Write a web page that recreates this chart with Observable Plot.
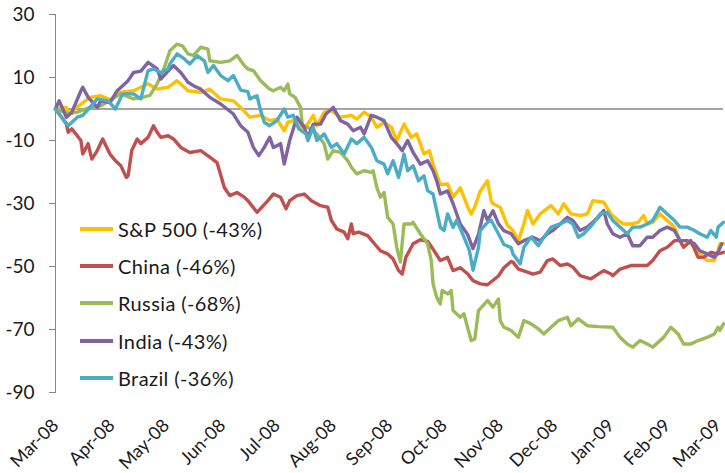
<!DOCTYPE html>
<html>
<head>
<meta charset="utf-8">
<script src="https://cdn.jsdelivr.net/npm/d3@7"></script>
<script src="https://cdn.jsdelivr.net/npm/@observablehq/plot@0.6"></script>
<style>
  body { margin: 0; background: #fff; }
  #wrap { position: relative; width: 725px; height: 473px; font-family: Lato, "Liberation Sans", sans-serif; }
  #legend { position: absolute; left: 80px; top: 210px; }
  .row { display: flex; align-items: center; height: 37.3px; font-size: 20px; letter-spacing: 0.4px; color: #1a1a1a; white-space: nowrap; }
  .sw { width: 33px; height: 4px; margin-right: 5px; }
</style>
</head>
<body>
<div id="wrap"><div id="chart"></div><div id="legend"></div></div>
<script>
const seriesNames = ["S&P 500 (-43%)", "China (-46%)", "Russia (-68%)", "India (-43%)", "Brazil (-36%)"];
const seriesColors = ["#FFC000", "#C0504D", "#9BBB59", "#8064A2", "#4BACC6"];
const yTicks = [30, 10, -10, -30, -50, -70, -90];
const yTickLabels = ["30", "10", "-10", "-30", "-50", "-70", "-90"];
const xTicks = ["2008-03-01","2008-04-01","2008-05-01","2008-06-01","2008-07-01","2008-08-01","2008-09-01","2008-10-01","2008-11-01","2008-12-01","2009-01-01","2009-02-01","2009-03-01"];
const xTickLabels = ["Mar-08","Apr-08","May-08","Jun-08","Jul-08","Aug-08","Sep-08","Oct-08","Nov-08","Dec-08","Jan-09","Feb-09","Mar-09"];
const xDomain = ["2008-03-01", "2009-03-04"];

const sp500 = [["2008-03-01",0],["2008-03-07",0.5],["2008-03-08",-1.5],["2008-03-20",3.7],["2008-03-26",4.2],["2008-03-31",3],["2008-04-06",5.3],["2008-04-13",5.8],["2008-04-21",8],["2008-04-26",6.3],["2008-05-02",6.9],["2008-05-07",9],["2008-05-13",5.8],["2008-05-20",5.3],["2008-05-25",6.3],["2008-05-31",3.2],["2008-06-07",2.6],["2008-06-11",0.5],["2008-06-16",-2.6],["2008-06-22",-2],["2008-06-27",-3.7],["2008-07-01",-3.2],["2008-07-05",-6.9],["2008-07-07",-4.2],["2008-07-10",-3.7],["2008-07-15",-5.8],["2008-07-18",-4.8],["2008-07-21",-2],["2008-07-23",-5.3],["2008-07-27",-1],["2008-07-31",-0.5],["2008-08-05",-2.6],["2008-08-11",-2],["2008-08-14",-3.2],["2008-08-18",-1],["2008-08-22",-2.6],["2008-08-25",-5.8],["2008-08-29",-4.2],["2008-09-02",-5.8],["2008-09-05",-10],["2008-09-09",-4.8],["2008-09-13",-9],["2008-09-16",-7.9],["2008-09-20",-14.3],["2008-09-23",-13.2],["2008-09-25",-17.5],["2008-09-29",-24],["2008-10-03",-23.8],["2008-10-06",-28],["2008-10-10",-25],["2008-10-14",-31],["2008-10-16",-33.3],["2008-10-18",-31],["2008-10-21",-26],["2008-10-25",-22.8],["2008-10-27",-29.1],["2008-10-28",-30.1],["2008-11-01",-31.2],["2008-11-05",-37],["2008-11-08",-38.6],["2008-11-11",-41.8],["2008-11-14",-36.5],["2008-11-16",-32.2],["2008-11-19",-36.5],["2008-11-23",-33.3],["2008-11-29",-30.7],["2008-12-03",-33.3],["2008-12-06",-30.1],["2008-12-10",-33.3],["2008-12-15",-33.8],["2008-12-19",-33.3],["2008-12-22",-29.1],["2008-12-28",-29.6],["2009-01-01",-33.3],["2009-01-05",-35.4],["2009-01-08",-36.5],["2009-01-12",-36.5],["2009-01-16",-36],["2009-01-19",-33.8],["2009-01-21",-36.5],["2009-01-24",-36],["2009-01-28",-33.3],["2009-02-01",-35.4],["2009-02-05",-37.5],["2009-02-08",-41.8],["2009-02-12",-41.8],["2009-02-16",-43.9],["2009-02-19",-46],["2009-02-23",-48.1],["2009-02-27",-48.1],["2009-03-01",-45],["2009-03-02",-42.8],["2009-03-04",-42.8]];

const china = [["2008-03-01",0],["2008-03-07",-4.8],["2008-03-08",-7.4],["2008-03-10",-6.3],["2008-03-15",-10],["2008-03-16",-14.3],["2008-03-19",-11],["2008-03-21",-15.9],["2008-03-24",-13.2],["2008-03-27",-9.5],["2008-03-31",-14.3],["2008-04-03",-16.4],["2008-04-06",-18],["2008-04-09",-21.7],["2008-04-10",-21.2],["2008-04-12",-13.2],["2008-04-15",-9.5],["2008-04-17",-11],["2008-04-21",-9],["2008-04-24",-5.3],["2008-04-26",-7.4],["2008-04-28",-9],["2008-05-02",-8.5],["2008-05-05",-9.5],["2008-05-09",-12.2],["2008-05-14",-13.8],["2008-05-20",-13.2],["2008-05-25",-15.3],["2008-05-29",-17],["2008-06-02",-24.9],["2008-06-05",-27.5],["2008-06-09",-26.5],["2008-06-13",-28],["2008-06-15",-29.1],["2008-06-20",-32.8],["2008-06-26",-29.1],["2008-06-29",-27],["2008-07-03",-28],["2008-07-06",-31.7],["2008-07-08",-29.1],["2008-07-12",-27.5],["2008-07-16",-27],["2008-07-20",-29.1],["2008-07-25",-30.7],["2008-07-29",-31.2],["2008-07-31",-35.4],["2008-08-03",-38.1],["2008-08-07",-39.1],["2008-08-09",-41.2],["2008-08-11",-36.5],["2008-08-12",-39.6],["2008-08-15",-39.1],["2008-08-20",-40.2],["2008-08-23",-42.3],["2008-08-27",-45],["2008-08-31",-46],["2008-09-03",-47.6],["2008-09-06",-51.3],["2008-09-08",-52.4],["2008-09-10",-47.1],["2008-09-13",-43.9],["2008-09-14",-42.8],["2008-09-18",-41.5],["2008-09-22",-42],["2008-09-25",-44.5],["2008-09-29",-48.1],["2008-10-03",-47.1],["2008-10-06",-51.3],["2008-10-10",-50.4],["2008-10-14",-52.3],["2008-10-17",-54.5],["2008-10-21",-55.5],["2008-10-25",-55.8],["2008-10-31",-53],["2008-11-03",-50.4],["2008-11-07",-48.4],["2008-11-08",-48.6],["2008-11-11",-50.8],["2008-11-16",-51.8],["2008-11-19",-52.4],["2008-11-23",-51.8],["2008-11-27",-48.1],["2008-11-30",-47.6],["2008-12-04",-49.7],["2008-12-08",-49.2],["2008-12-11",-50.2],["2008-12-15",-52.9],["2008-12-21",-53.9],["2008-12-25",-52.4],["2008-12-28",-51.3],["2009-01-01",-52.4],["2009-01-02",-52.9],["2009-01-06",-50.8],["2009-01-12",-49.7],["2009-01-17",-49.7],["2009-01-21",-49.7],["2009-01-24",-48.1],["2009-01-28",-45],["2009-02-01",-43.9],["2009-02-05",-41.8],["2009-02-08",-41.8],["2009-02-10",-43.9],["2009-02-14",-41.8],["2009-02-18",-47.1],["2009-02-21",-47.1],["2009-02-25",-45.5],["2009-03-01",-46],["2009-03-04",-45.5]];

const russia = [["2008-03-01",0],["2008-03-08",-1.5],["2008-03-13",-1],["2008-03-20",0.5],["2008-03-26",1],["2008-04-06",4.8],["2008-04-13",3.2],["2008-04-18",3.7],["2008-04-22",4.3],["2008-04-26",8],["2008-04-30",13.2],["2008-05-03",18.5],["2008-05-07",20.6],["2008-05-10",20],["2008-05-13",17.5],["2008-05-16",17],["2008-05-20",19.6],["2008-05-24",19],["2008-05-25",15.3],["2008-05-31",14.8],["2008-06-05",15.3],["2008-06-09",17],["2008-06-13",13.8],["2008-06-15",12.7],["2008-06-18",12.2],["2008-06-22",9],["2008-06-27",6.3],["2008-06-29",5.8],["2008-07-03",6.9],["2008-07-05",5.8],["2008-07-07",7.9],["2008-07-08",4.8],["2008-07-11",3.7],["2008-07-14",0.5],["2008-07-15",-5.3],["2008-07-18",-5.8],["2008-07-23",-7.9],["2008-07-27",-11],["2008-07-29",-15.9],["2008-08-01",-13.2],["2008-08-05",-13.8],["2008-08-09",-16.4],["2008-08-11",-18.5],["2008-08-14",-20.6],["2008-08-18",-19.6],["2008-08-22",-20.1],["2008-08-23",-19.6],["2008-08-25",-24.9],["2008-08-27",-28],["2008-08-29",-26.5],["2008-08-31",-34.4],["2008-09-03",-36.5],["2008-09-05",-43.9],["2008-09-07",-48.6],["2008-09-09",-36.5],["2008-09-13",-36.5],["2008-09-14",-36],["2008-09-18",-39.6],["2008-09-22",-42.8],["2008-09-24",-48.1],["2008-09-25",-55.5],["2008-09-27",-59.8],["2008-09-29",-61.9],["2008-09-30",-57.6],["2008-10-03",-58.7],["2008-10-05",-57.6],["2008-10-06",-64],["2008-10-10",-66.1],["2008-10-12",-65],["2008-10-14",-69.3],["2008-10-16",-73.5],["2008-10-18",-73],["2008-10-20",-64],["2008-10-25",-60.8],["2008-10-28",-62.9],["2008-10-31",-60.3],["2008-11-01",-67.2],["2008-11-03",-69.3],["2008-11-07",-70.3],["2008-11-11",-72.5],["2008-11-14",-67.2],["2008-11-18",-68.2],["2008-11-22",-69.8],["2008-11-25",-71.4],["2008-11-29",-69.3],["2008-12-03",-67.2],["2008-12-08",-66.1],["2008-12-10",-68.8],["2008-12-14",-66.6],["2008-12-19",-68.8],["2008-12-25",-69.1],["2009-01-02",-69.3],["2009-01-06",-72.5],["2009-01-10",-74.6],["2009-01-13",-75.6],["2009-01-17",-73.5],["2009-01-21",-74.6],["2009-01-24",-75.6],["2009-01-30",-72.5],["2009-02-03",-69.3],["2009-02-07",-71.4],["2009-02-10",-74.6],["2009-02-14",-74.6],["2009-02-18",-73.5],["2009-02-23",-72.5],["2009-02-27",-71.4],["2009-03-01",-69.3],["2009-03-02",-70.3],["2009-03-04",-68.2]];

const india = [["2008-03-01",0],["2008-03-03",2.6],["2008-03-07",-2.6],["2008-03-10",-1],["2008-03-15",5.8],["2008-03-16",6.9],["2008-03-19",3.7],["2008-03-24",0.5],["2008-03-26",2.6],["2008-03-31",2],["2008-04-04",5.8],["2008-04-10",9],["2008-04-13",11.6],["2008-04-17",12],["2008-04-21",14.8],["2008-04-26",12.7],["2008-04-28",9.5],["2008-05-02",12],["2008-05-05",13.8],["2008-05-09",11.6],["2008-05-13",8.5],["2008-05-16",7.4],["2008-05-20",6.3],["2008-05-25",3.7],["2008-05-31",1.6],["2008-06-07",-1.6],["2008-06-11",-5.3],["2008-06-15",-7.4],["2008-06-18",-12.2],["2008-06-21",-14.8],["2008-06-24",-12.2],["2008-06-27",-9],["2008-06-29",-12.2],["2008-07-03",-11],["2008-07-05",-17.5],["2008-07-08",-10],["2008-07-12",-2.6],["2008-07-16",-5.8],["2008-07-18",-9],["2008-07-21",-4.8],["2008-07-25",-4.8],["2008-07-28",-1.6],["2008-08-01",0.5],["2008-08-05",-3.7],["2008-08-09",-4.8],["2008-08-12",-6.9],["2008-08-16",-5.8],["2008-08-18",-7.9],["2008-08-22",-2],["2008-08-25",-2.6],["2008-08-29",-3.7],["2008-09-02",-9],["2008-09-05",-11],["2008-09-08",-13.2],["2008-09-11",-10],["2008-09-14",-13.8],["2008-09-18",-17.5],["2008-09-22",-16.4],["2008-09-25",-19.6],["2008-09-27",-22.8],["2008-09-29",-27],["2008-10-03",-26],["2008-10-06",-30],["2008-10-10",-36.5],["2008-10-14",-39.8],["2008-10-17",-44.3],["2008-10-20",-39.8],["2008-10-23",-32.3],["2008-10-25",-35.4],["2008-10-28",-32.3],["2008-10-31",-36.4],["2008-11-03",-38.6],["2008-11-07",-39.6],["2008-11-11",-42.8],["2008-11-14",-41.8],["2008-11-19",-40.7],["2008-11-23",-41.8],["2008-11-27",-39.6],["2008-11-30",-38.6],["2008-12-04",-36.5],["2008-12-08",-34.4],["2008-12-11",-35.4],["2008-12-15",-38.6],["2008-12-19",-37.5],["2008-12-25",-34.4],["2008-12-28",-32.2],["2008-12-30",-36.5],["2009-01-02",-39.6],["2009-01-06",-40.7],["2009-01-10",-39.6],["2009-01-13",-43.4],["2009-01-17",-43.4],["2009-01-21",-40.7],["2009-01-24",-40.7],["2009-01-28",-38.6],["2009-02-01",-37.5],["2009-02-05",-38.6],["2009-02-08",-41.8],["2009-02-12",-41.8],["2009-02-16",-42.8],["2009-02-19",-45],["2009-02-23",-46],["2009-02-27",-47.1],["2009-03-01",-45.5],["2009-03-03",-42.8]];

const brazil = [["2008-03-01",0],["2008-03-08",-5.3],["2008-03-13",-2.6],["2008-03-16",-2],["2008-03-20",0.5],["2008-03-24",3.2],["2008-03-30",2.6],["2008-04-03",0],["2008-04-07",4.8],["2008-04-13",4.8],["2008-04-17",3.2],["2008-04-21",12.2],["2008-04-24",12.7],["2008-04-28",11.6],["2008-05-02",12.7],["2008-05-03",14.3],["2008-05-07",17.5],["2008-05-11",15.9],["2008-05-14",14.3],["2008-05-18",16.9],["2008-05-22",15.3],["2008-05-24",11.6],["2008-05-27",13.8],["2008-05-31",10.6],["2008-06-04",9],["2008-06-07",10.6],["2008-06-11",6],["2008-06-15",5.5],["2008-06-16",3.2],["2008-06-20",4.2],["2008-06-22",-0.5],["2008-06-24",-4.2],["2008-06-27",-5.3],["2008-07-01",-3.7],["2008-07-05",0],["2008-07-07",-2.6],["2008-07-10",-2],["2008-07-13",-6.3],["2008-07-17",-7.9],["2008-07-18",-10],["2008-07-21",-5.8],["2008-07-23",-10],["2008-07-27",-7.9],["2008-07-31",-12.2],["2008-08-03",-11],["2008-08-07",-14.3],["2008-08-11",-9.5],["2008-08-14",-11],["2008-08-18",-9],["2008-08-22",-12.2],["2008-08-25",-16.4],["2008-08-29",-17.5],["2008-08-31",-20.6],["2008-09-03",-16.4],["2008-09-06",-21.7],["2008-09-09",-14.3],["2008-09-11",-19.6],["2008-09-14",-18],["2008-09-17",-22.8],["2008-09-20",-21.2],["2008-09-22",-25.9],["2008-09-25",-27],["2008-09-29",-37.6],["2008-10-01",-38.6],["2008-10-03",-33.3],["2008-10-06",-37.6],["2008-10-08",-35.3],["2008-10-12",-40.7],["2008-10-15",-44.9],["2008-10-17",-51.2],["2008-10-20",-44],["2008-10-21",-38.6],["2008-10-25",-36],["2008-10-27",-35.3],["2008-10-31",-39.6],["2008-11-03",-43],["2008-11-07",-44],["2008-11-08",-46],["2008-11-12",-49.2],["2008-11-14",-43.9],["2008-11-18",-40.7],["2008-11-22",-43.4],["2008-11-25",-40.7],["2008-11-29",-37.5],["2008-12-04",-36.5],["2008-12-08",-35.4],["2008-12-11",-36.5],["2008-12-14",-40.7],["2008-12-17",-39.6],["2008-12-22",-36.5],["2008-12-26",-33.3],["2008-12-30",-32.8],["2009-01-02",-35.4],["2009-01-06",-37.5],["2009-01-10",-39.6],["2009-01-13",-37.5],["2009-01-17",-37.5],["2009-01-21",-36.5],["2009-01-24",-35.4],["2009-01-28",-31.2],["2009-02-01",-33.3],["2009-02-05",-35.4],["2009-02-08",-37.5],["2009-02-12",-37.5],["2009-02-16",-38.6],["2009-02-19",-39.6],["2009-02-23",-40.7],["2009-02-25",-38.6],["2009-02-28",-40.7],["2009-03-01",-37.5],["2009-03-04",-36]];

const parse = d3.utcParse("%Y-%m-%d");
const allSeries = [sp500, china, russia, india, brazil];
const rows = allSeries.flatMap((s, i) => s.map(([d, v]) => ({date: parse(d), value: v, series: seriesNames[i]})));
const xTickDates = xTicks.map(parse);

const chart = Plot.plot({
  width: 725,
  height: 473,
  marginLeft: 55,
  marginRight: 2,
  marginTop: 14,
  marginBottom: 81,
  style: {fontFamily: "Lato, 'Liberation Sans', sans-serif", fontSize: "19px", color: "#1a1a1a", background: "white", overflow: "visible"},
  x: {type: "utc", domain: xDomain.map(parse)},
  y: {domain: [-90, 30]},
  color: {domain: seriesNames, range: seriesColors},
  marks: [
    Plot.frame({anchor: "left", stroke: "#868686"}),
    Plot.ruleY([0], {stroke: "#868686", strokeWidth: 1.4}),
    Plot.axisY({ticks: yTicks, tickFormat: (d) => yTickLabels[yTicks.indexOf(d)], tickSize: 6, tickPadding: 15, stroke: "#868686", fill: "#1a1a1a", label: null, fontSize: 19}),
    Plot.axisX({ticks: xTickDates, tickFormat: (d) => xTickLabels[xTickDates.findIndex((t) => +t === +d)], tickSize: 0, tickPadding: 30, dx: 0, rotate: -45, textAnchor: "end", lineAnchor: "middle", label: null, fontSize: 18, fill: "#1a1a1a"}),
    Plot.line(rows, {x: "date", y: "value", z: "series", stroke: "series", strokeWidth: 3.4, strokeLinejoin: "round", strokeLinecap: "round"})
  ]
});
document.getElementById("chart").appendChild(chart);

const legend = document.getElementById("legend");
seriesNames.forEach((name, i) => {
  const row = document.createElement("div");
  row.className = "row";
  const sw = document.createElement("div");
  sw.className = "sw";
  sw.style.background = seriesColors[i];
  const label = document.createElement("span");
  label.textContent = name;
  row.appendChild(sw);
  row.appendChild(label);
  legend.appendChild(row);
});
</script>
</body>
</html>
